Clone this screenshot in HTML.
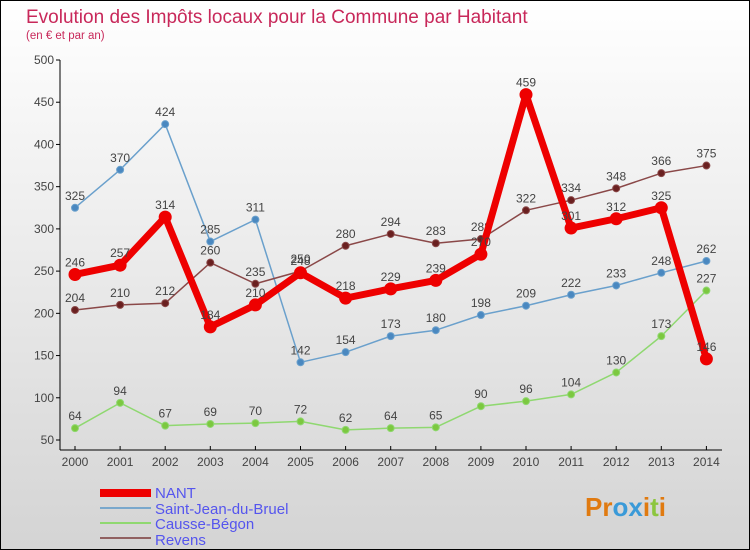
<!DOCTYPE html>
<html><head><meta charset="utf-8"><style>
body{margin:0}
svg{display:block;font-family:"Liberation Sans",sans-serif}
</style></head><body>
<svg id="chart" width="750" height="550">
<defs><linearGradient id="bg" x1="0" y1="0" x2="0" y2="1"><stop offset="0" stop-color="#ffffff"/><stop offset="1" stop-color="#d4d4d4"/></linearGradient></defs>
<rect x="0.5" y="0.5" width="749" height="549" fill="url(#bg)" stroke="#000"/>
<text x="26" y="23" font-size="19" fill="#c8285a">Evolution des Impôts locaux pour la Commune par Habitant</text>
<text x="26" y="39" font-size="11.5" fill="#c8285a">(en € et par an)</text>
<g id="axes"></g><g id="series"></g>
<g>
<rect x="100" y="489" width="51" height="8" fill="#e00"/>
<text x="155" y="498" font-size="15" fill="#5555ee">NANT</text>
<line x1="100" y1="508" x2="151" y2="508" stroke="#7aa8cc" stroke-width="2"/>
<text x="155" y="514" font-size="15" fill="#5555ee">Saint-Jean-du-Bruel</text>
<line x1="100" y1="523" x2="151" y2="523" stroke="#8fd870" stroke-width="2"/>
<text x="155" y="529" font-size="15" fill="#5555ee">Causse-Bégon</text>
<line x1="100" y1="538" x2="151" y2="538" stroke="#906060" stroke-width="2"/>
<text x="155" y="545" font-size="15" fill="#5555ee">Revens</text>
</g>
<g font-size="26" font-weight="bold">
<text x="585" y="516"><tspan fill="#e07a10">Pr</tspan><tspan fill="#3a9ad8">o</tspan><tspan fill="#3a9ad8">x</tspan><tspan fill="#e07a10">i</tspan><tspan fill="#8cc63f">t</tspan><tspan fill="#e07a10">i</tspan></text>
</g>
</svg>
<script>
const years=[2000,2001,2002,2003,2004,2005,2006,2007,2008,2009,2010,2011,2012,2013,2014];
const yTicks=[50,100,150,200,250,300,350,400,450,500];
const nant=[246,257,314,184,210,248,218,229,239,270,459,301,312,325,146];
const saintJean=[325,370,424,285,311,142,154,173,180,198,209,222,233,248,262];
const causse=[64,94,67,69,70,72,62,64,65,90,96,104,130,173,227];
const revens=[204,210,212,260,235,250,280,294,283,288,322,334,348,366,375];
const NS="http://www.w3.org/2000/svg";
function X(i){return 75+i*45.1;}
function Y(v){return 440-(v-50)*380/450;}
function mk(t,a,p){const e=document.createElementNS(NS,t);for(const k in a)e.setAttribute(k,a[k]);p.appendChild(e);return e;}
const ax=document.getElementById('axes');
mk('line',{x1:60,y1:60,x2:60,y2:450,stroke:'#000'},ax);
mk('line',{x1:60,y1:450,x2:722,y2:450,stroke:'#000'},ax);
yTicks.forEach(v=>{
 mk('line',{x1:56,y1:Y(v),x2:60,y2:Y(v),stroke:'#000'},ax);
 const t=mk('text',{x:54,y:Y(v)+4,'font-size':12,fill:'#444','text-anchor':'end'},ax);t.textContent=v;
 
 
});
years.forEach((y,i)=>{
 mk('line',{x1:X(i),y1:446,x2:X(i),y2:450,stroke:'#000'},ax);
 const t=mk('text',{x:X(i),y:466,'font-size':12,fill:'#444','text-anchor':'middle'},ax);t.textContent=y;
 
 
});
const sg=document.getElementById('series');
function series(data,color,w,r,fill,name){
 const g=mk('g',{},sg);
 
 
 mk('polyline',{points:data.map((v,i)=>X(i)+','+Y(v)).join(' '),fill:'none',stroke:color,'stroke-width':w,'stroke-linejoin':'round'},g);
 data.forEach((v,i)=>{
  const c=mk('circle',{cx:X(i),cy:Y(v),r:r,fill:fill,stroke:color,'stroke-width':1},g);
  
  
  const t=mk('text',{x:X(i),y:Y(v)-8,'font-size':12,fill:'#444','text-anchor':'middle'},g);t.textContent=v;
  
  
 });
}
series(causse,'#8fd870',1.5,3.5,'#7cc840','series-causse-begon');
series(saintJean,'#6aa0cc',1.5,3.5,'#4a88c0','series-saint-jean');
series(revens,'#8a4848',1.5,3.5,'#6a2020','series-revens');
series(nant,'#e00',7,6,'#e00','series-nant');
</script>
</body></html>
